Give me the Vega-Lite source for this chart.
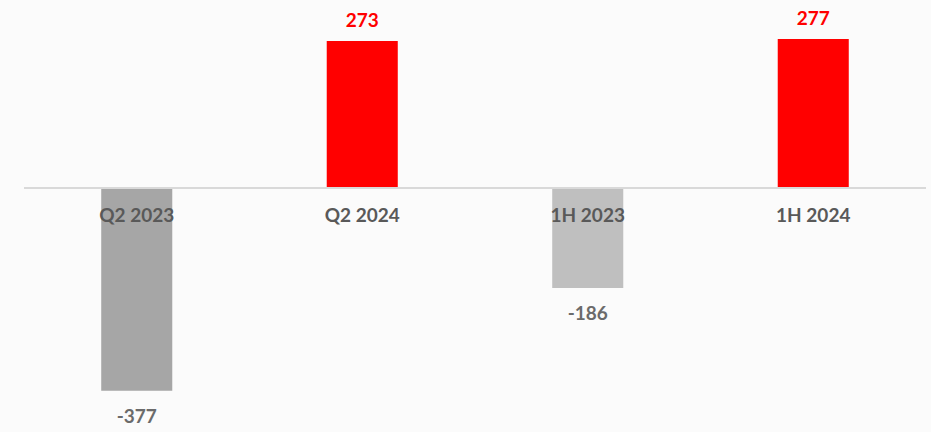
{
  "$schema": "https://vega.github.io/schema/vega-lite/v6.json",
  "width": 902,
  "height": 432,
  "autosize": {"type": "none"},
  "padding": {"left": 24, "top": 0, "right": 5, "bottom": 0},
  "background": "#fbfbfb",
  "config": {"view": {"stroke": null}},
  "data": {
    "values": [
      {"period": "Q2 2023", "value": -377},
      {"period": "Q2 2024", "value": 273},
      {"period": "1H 2023", "value": -186},
      {"period": "1H 2024", "value": 277}
    ]
  },
  "encoding": {
    "x": {
      "field": "period",
      "type": "nominal",
      "sort": null,
      "scale": {"paddingInner": 0.685, "paddingOuter": 0.3425},
      "axis": null
    }
  },
  "layer": [
    {
      "mark": {"type": "bar"},
      "encoding": {
        "y": {"field": "value", "type": "quantitative", "scale": {"domain": [-453.5, 349.4], "nice": false, "zero": false}, "axis": null},
        "color": {
          "field": "period",
          "type": "nominal",
          "scale": {"domain": ["Q2 2023", "Q2 2024", "1H 2023", "1H 2024"], "range": ["#a6a6a6", "#ff0000", "#bfbfbf", "#ff0000"]},
          "legend": null
        }
      }
    },
    {
      "mark": {"type": "rule", "color": "#d9d9d9", "strokeWidth": 2},
      "encoding": {"y": {"datum": 0, "type": "quantitative"}, "x": null}
    },
    {
      "mark": {"type": "text", "font": "Lato", "fontWeight": "bold", "fontSize": 19, "color": "#595959", "baseline": "middle", "dy": 28},
      "encoding": {
        "y": {"datum": 0, "type": "quantitative"},
        "text": {"field": "period"}
      }
    },
    {
      "transform": [{"filter": "datum.value > 0"}],
      "mark": {"type": "text", "font": "Lato", "fontWeight": "bold", "fontSize": 19, "color": "#ff0000", "baseline": "bottom", "dy": -10},
      "encoding": {
        "y": {"field": "value", "type": "quantitative"},
        "text": {"field": "value"}
      }
    },
    {
      "transform": [{"filter": "datum.value < 0"}],
      "mark": {"type": "text", "font": "Lato", "fontWeight": "bold", "fontSize": 19, "color": "#6b6b6b", "baseline": "top", "dy": 17},
      "encoding": {
        "y": {"field": "value", "type": "quantitative"},
        "text": {"field": "value"}
      }
    }
  ]
}
